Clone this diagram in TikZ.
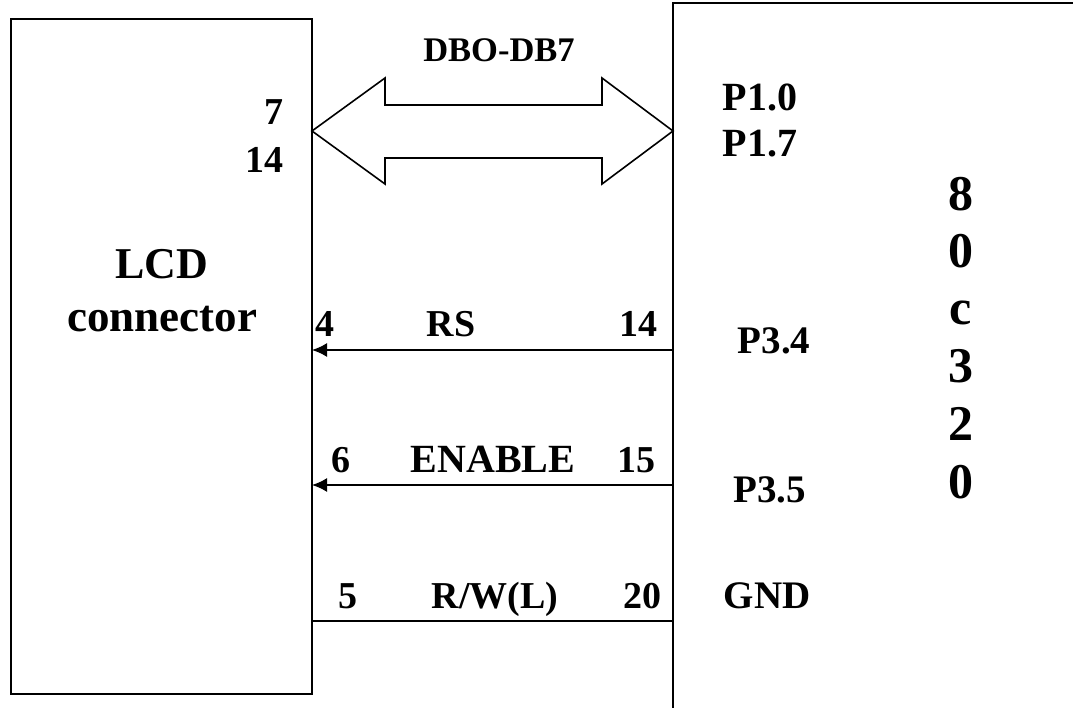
\documentclass[tikz,border=0pt]{standalone}
\usepackage{fontspec}
\setmainfont{Liberation Serif}
\usetikzlibrary{arrows.meta}
\tikzset{
  box/.style={draw=black,line width=1.6pt,fill=none},
  lbl/.style={font=\bfseries\fontsize{#1}{#1}\selectfont,inner sep=0pt,text=black,anchor=base},
  lbl/.default=38,
  wire/.style={draw=black,line width=1.6pt},
  arr/.style={wire,-{Latex[length=15pt,width=14pt]}}
}
\begin{document}
\begin{tikzpicture}[x=1pt,y=-1pt]
\useasboundingbox (0,0) rectangle (1073,708);
\coordinate (la) at (11,19); \coordinate (lb) at (312,694);
\draw[box] (la) rectangle (lb);
\draw[box] (1073,3) -- (673,3) -- (673,708);
\coordinate (rs1) at (673,350); \coordinate (rs2) at (312,350);
\coordinate (en1) at (673,485); \coordinate (en2) at (312,485);
\coordinate (rw1) at (673,621); \coordinate (rw2) at (312,621);
\draw[arr] (rs1) -- (rs2);
\draw[arr] (en1) -- (en2);
\draw[wire] (rw1) -- (rw2);
\draw[wire,line join=miter] (312,131) -- (385,78) -- (385,105) -- (602,105) -- (602,78) -- (673,131) -- (602,184) -- (602,158) -- (385,158) -- (385,184) -- cycle;
\node[lbl=34.5] (t1) at (499,62) {DBO-DB7};
\node[lbl=38,anchor=base east] (t2) at (284,125) {7};
\node[lbl=38,anchor=base east] (t3) at (284,173) {14};
\node[lbl=44] (t4) at (162,279) {LCD};
\node[lbl=45] (t5) at (162,332) {connector};
\node[lbl=38] (t6) at (325,337) {4};
\node[lbl=38] (t7) at (451,337) {RS};
\node[lbl=38] (t8) at (638,337) {14};
\node[lbl=38] (t9) at (341,472) {6};
\node[lbl=40] (t10) at (493,472) {ENABLE};
\node[lbl=38] (t11) at (636,472) {15};
\node[lbl=38] (t12) at (348,608) {5};
\node[lbl=38] (t13) at (495,608) {R/W(L)};
\node[lbl=38] (t14) at (642,608) {20};
\node[lbl=40] (t15) at (760,111) {P1.0};
\node[lbl=40] (t16) at (760,157) {P1.7};
\node[lbl=39] (t17) at (774,353) {P3.4};
\node[lbl=39] (t18) at (769.5,502) {P3.5};
\node[lbl=39] (t19) at (767,608) {GND};
\node[lbl=50] (a1) at (961,211) {8};
\node[lbl=50] (a2) at (961,268) {0};
\node[lbl=50] (a3) at (961,325) {c};
\node[lbl=50] (a4) at (961,382) {3};
\node[lbl=50] (a5) at (961,440) {2};
\node[lbl=50] (a6) at (961,498) {0};
\end{tikzpicture}
\end{document}
